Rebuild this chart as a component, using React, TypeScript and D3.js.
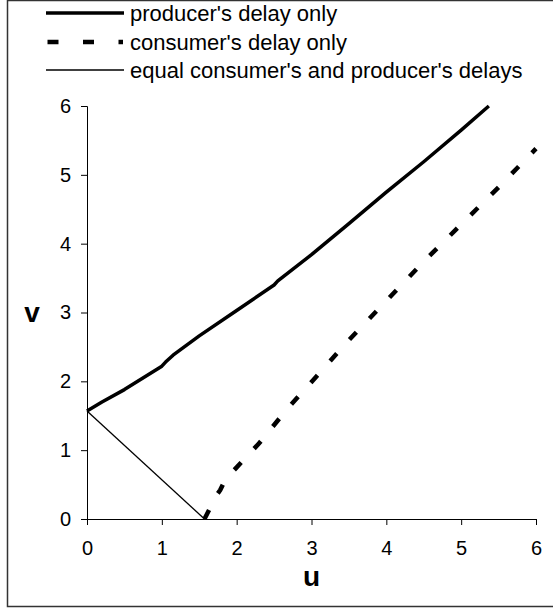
import { useEffect, useRef } from "react";
import * as d3 from "d3";

const W = 553;
const H = 610;

// producer's delay only (thick solid)
const producerU = [0, 0.2, 0.5, 1.0, 1.05, 1.15, 1.5, 2.0, 2.5, 2.55, 3.0, 3.5, 4.0, 4.5, 5.0, 5.37];
const producerV = [1.57, 1.7, 1.88, 2.22, 2.28, 2.38, 2.66, 3.03, 3.4, 3.46, 3.84, 4.29, 4.75, 5.19, 5.65, 6.0];

// consumer's delay only (thick dashed)
const consumerU = [1.57, 1.65, 1.72, 1.78, 1.85, 2.0, 2.3, 2.7, 3.0, 3.5, 4.0, 4.5, 5.0, 5.5, 6.0];
const consumerV = [0, 0.17, 0.33, 0.42, 0.58, 0.75, 1.1, 1.63, 1.99, 2.6, 3.17, 3.74, 4.28, 4.82, 5.38];

// equal consumer's and producer's delays (thin solid)
const equalU = [0, 1.57];
const equalV = [1.57, 0];

const xTicks = [0, 1, 2, 3, 4, 5, 6];
const yTicks = [0, 1, 2, 3, 4, 5, 6];

const legendLabels = [
  "producer's delay only",
  "consumer's delay only",
  "equal consumer's and producer's delays",
];

const FONT = "'Liberation Sans', Arial, sans-serif";

type Pt = { u: number; v: number };
const zip = (us: number[], vs: number[]): Pt[] => us.map((u, i) => ({ u, v: vs[i] }));

export default function App() {
  const xAxisRef = useRef<SVGGElement>(null);
  const yAxisRef = useRef<SVGGElement>(null);

  const x = d3.scaleLinear().domain([0, 6]).range([87, 536]);
  const y = d3.scaleLinear().domain([0, 6]).range([519, 106]);

  useEffect(() => {
    const gx = d3.select(xAxisRef.current);
    gx.selectAll("*").remove();
    gx.call(d3.axisBottom(x).tickValues(xTicks).tickFormat(d3.format("d")).tickSize(6).tickPadding(16));
    const gy = d3.select(yAxisRef.current);
    gy.selectAll("*").remove();
    gy.call(d3.axisLeft(y).tickValues(yTicks).tickFormat(d3.format("d")).tickSize(6).tickPadding(10));
    [gx, gy].forEach((g) => {
      g.selectAll("text").attr("font-size", 20).attr("font-family", FONT).attr("fill", "#000");
      g.selectAll("line,path").attr("stroke", "#000").attr("stroke-width", 1);
      g.attr("font-family", FONT);
    });
  }, []);

  const line = d3
    .line<Pt>()
    .x((d) => x(d.u))
    .y((d) => y(d.v));

  const legendY = [13, 42, 70];

  return (
    <svg
      width={W}
      height={H}
      style={{ position: "absolute", left: 0, top: 0, background: "#fff" }}
    >
      <rect x={7.5} y={0.5} width={W} height={606} fill="#fff" stroke="#333" strokeWidth={1.5} />

      <g ref={yAxisRef} transform={`translate(${x(0)},0)`} />
      <g ref={xAxisRef} transform={`translate(0,${y(0)})`} />

      <path d={line(zip(equalU, equalV)) as string} fill="none" stroke="#000" strokeWidth={1.3} />
      <path
        d={line(zip(consumerU, consumerV)) as string}
        fill="none"
        stroke="#000"
        strokeWidth={4.5}
        strokeDasharray="10 19"
      />
      <path
        d={line(zip(producerU, producerV)) as string}
        fill="none"
        stroke="#000"
        strokeWidth={3.5}
        strokeLinejoin="round"
      />

      {/* legend */}
      <g fontFamily={FONT} fontSize={22}>
        <line x1={46} x2={124} y1={legendY[0]} y2={legendY[0]} stroke="#000" strokeWidth={3.5} />
        <line
          x1={47.5}
          x2={123}
          y1={legendY[1]}
          y2={legendY[1]}
          stroke="#000"
          strokeWidth={4.5}
          strokeDasharray="11 24.5"
        />
        <line x1={46} x2={124} y1={legendY[2]} y2={legendY[2]} stroke="#000" strokeWidth={1.3} />
        {legendLabels.map((t, i) => (
          <text key={t} x={130} y={legendY[i]} dy="0.36em">
            {t}
          </text>
        ))}
      </g>

      <text x={(x(0) + x(6)) / 2} y={586} textAnchor="middle" fontFamily={FONT} fontWeight="bold" fontSize={28}>
        u
      </text>
      <text x={32} y={322} textAnchor="middle" fontFamily={FONT} fontWeight="bold" fontSize={28}>
        v
      </text>
    </svg>
  );
}
